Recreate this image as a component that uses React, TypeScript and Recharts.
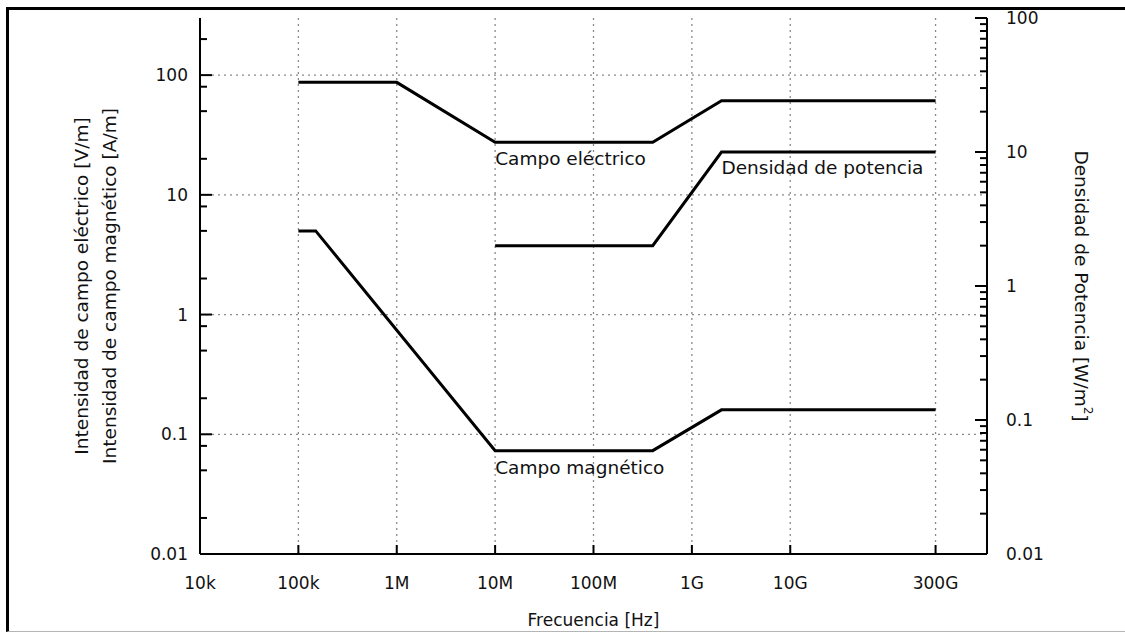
import React from 'react';
import { ComposedChart, Line, XAxis, YAxis, ReferenceLine, ReferenceDot } from 'recharts';

// ---- data ----
const freqTicks = [1e4, 1e5, 1e6, 1e7, 1e8, 1e9, 1e10, 3e11];
const freqLabels = ['10k', '100k', '1M', '10M', '100M', '1G', '10G', '300G'];
const freqGrid = [1e5, 1e6, 1e7, 1e8, 1e9, 1e10, 3e11];

const leftMajor = [0.01, 0.1, 1, 10, 100];
const leftMajorLabels = ['0.01', '0.1', '1', '10', '100'];
const leftMinor = [0.02, 0.05, 0.08, 0.2, 0.5, 0.8, 2, 5, 8, 20, 50, 80, 200];
const leftGrid = [0.1, 1, 10, 100];

const rightMajor = [0.01, 0.1, 1, 10, 100];
const rightMajorLabels = ['0.01', '0.1', '1', '10', '100'];
const rightMinor = [
  0.02, 0.03, 0.04, 0.05, 0.06, 0.07, 0.08, 0.09,
  0.2, 0.3, 0.4, 0.5, 0.6, 0.7, 0.8, 0.9,
  2, 3, 4, 5, 6, 7, 8, 9,
  20, 30, 40, 50, 60, 70, 80, 90,
];

const electricData = [
  { f: 1e5, v: 87 },
  { f: 1e6, v: 87 },
  { f: 1e7, v: 27.5 },
  { f: 4e8, v: 27.5 },
  { f: 2e9, v: 61 },
  { f: 3e11, v: 61 },
];
const magneticData = [
  { f: 1e5, v: 5 },
  { f: 1.5e5, v: 5 },
  { f: 1e7, v: 0.073 },
  { f: 4e8, v: 0.073 },
  { f: 2e9, v: 0.16 },
  { f: 3e11, v: 0.16 },
];
const powerData = [
  { f: 1e7, v: 2 },
  { f: 4e8, v: 2 },
  { f: 2e9, v: 10 },
  { f: 3e11, v: 10 },
];

const annotations = [
  { text: 'Campo eléctrico', f: 1e7, v: 20, axis: 'left' },
  { text: 'Densidad de potencia', f: 2e9, v: 7.6, axis: 'right' },
  { text: 'Campo magnético', f: 1e7, v: 0.053, axis: 'left' },
];

const FONT = '"DejaVu Sans", Verdana, sans-serif';
const TXT = '#111';

const near = (a: number, b: number) => Math.abs(a - b) <= Math.abs(b) * 1e-6;

const BottomTick = (props: any) => {
  const { x, y, payload } = props;
  const i = freqTicks.findIndex((t) => near(payload.value, t));
  return (
    <g>
      <line x1={x} x2={x} y1={y} y2={y - 9} stroke="#000" strokeWidth={2} />
      <text x={x} y={y + 29} textAnchor="middle" dominantBaseline="central" fontFamily={FONT} fontSize={17} fill={TXT}>
        {i >= 0 ? freqLabels[i] : ''}
      </text>
    </g>
  );
};

const TopTick = (props: any) => {
  const { x, y } = props;
  return <line x1={x} x2={x} y1={y} y2={y + 9} stroke="#000" strokeWidth={2} />;
};

const LeftTick = (props: any) => {
  const { x, y, payload } = props;
  const i = leftMajor.findIndex((t) => near(payload.value, t));
  const major = i >= 0;
  return (
    <g>
      <line x1={x} x2={x + (major ? 12 : 7)} y1={y} y2={y} stroke="#000" strokeWidth={2} />
      {major && (
        <text x={x - 12} y={y} textAnchor="end" dominantBaseline="central" fontFamily={FONT} fontSize={17} fill={TXT}>
          {leftMajorLabels[i]}
        </text>
      )}
    </g>
  );
};

const RightTick = (props: any) => {
  const { x, y, payload } = props;
  const i = rightMajor.findIndex((t) => near(payload.value, t));
  const major = i >= 0;
  return (
    <g>
      <line x1={x} x2={x - (major ? 12 : 7)} y1={y} y2={y} stroke="#000" strokeWidth={2} />
      {major && (
        <text x={x + 19} y={y} textAnchor="start" dominantBaseline="central" fontFamily={FONT} fontSize={17} fill={TXT}>
          {rightMajorLabels[i]}
        </text>
      )}
    </g>
  );
};

const LeftTitle = (props: any) => {
  const vb = props.viewBox || { x: 0, y: 18, width: 200, height: 536 };
  const cy = vb.y + vb.height / 2;
  const x1 = vb.x + 81;
  const x2 = vb.x + 109;
  return (
    <g>
      <text x={x1} y={cy} transform={`rotate(-90 ${x1} ${cy})`} textAnchor="middle" dominantBaseline="central" fontFamily={FONT} fontSize={18.5} fill={TXT}>
        Intensidad de campo eléctrico [V/m]
      </text>
      <text x={x2} y={cy} transform={`rotate(-90 ${x2} ${cy})`} textAnchor="middle" dominantBaseline="central" fontFamily={FONT} fontSize={18.5} fill={TXT}>
        Intensidad de campo magnético [A/m]
      </text>
    </g>
  );
};

const RightTitle = (props: any) => {
  const vb = props.viewBox || { x: 987, y: 18, width: 138, height: 536 };
  const cy = vb.y + vb.height / 2;
  const x = vb.x + 94;
  return (
    <text x={x} y={cy} transform={`rotate(90 ${x} ${cy})`} textAnchor="middle" dominantBaseline="central" fontFamily={FONT} fontSize={18.5} fill={TXT}>
      Densidad de Potencia [W/m
      <tspan dy={-7} fontSize={12}>2</tspan>
      <tspan dy={7}>]</tspan>
    </text>
  );
};

const BottomTitle = (props: any) => {
  const vb = props.viewBox || { x: 200, y: 554, width: 787, height: 79 };
  const cx = vb.x + vb.width / 2;
  return (
    <text x={cx} y={vb.y + 66} textAnchor="middle" dominantBaseline="central" fontFamily={FONT} fontSize={17} fill={TXT}>
      Frecuencia [Hz]
    </text>
  );
};

export default function App() {
  return (
    <div style={{ position: 'absolute', left: 0, top: 0, width: 1125, height: 633, background: '#fff', overflow: 'hidden' }}>
      <div
        style={{
          position: 'absolute',
          left: 6,
          top: 7,
          width: 1125,
          height: 621,
          borderTop: '3px solid #000',
          borderLeft: '3px solid #000',
          borderBottom: '1px solid #b5b5b5',
        }}
      />
      <div style={{ position: 'absolute', left: 0, top: 0 }}>
        <ComposedChart width={1125} height={633} margin={{ top: 18, right: 0, bottom: 0, left: 0 }}>
          <XAxis
            dataKey="f"
            type="number"
            scale="log"
            domain={[1e4, 1e12]}
            allowDataOverflow
            ticks={freqTicks}
            interval={0}
            height={79}
            tickSize={0}
            tickMargin={0}
            tick={<BottomTick />}
            axisLine={{ stroke: '#000', strokeWidth: 2 }}
            tickLine={false}
            label={<BottomTitle />}
          />
          <XAxis
            xAxisId="top"
            dataKey="f"
            type="number"
            scale="log"
            orientation="top"
            domain={[1e4, 1e12]}
            allowDataOverflow
            ticks={freqTicks}
            interval={0}
            height={0}
            tickSize={0}
            tickMargin={0}
            tick={<TopTick />}
            axisLine={{ stroke: '#000', strokeWidth: 2 }}
            tickLine={false}
          />
          <YAxis
            yAxisId="left"
            type="number"
            scale="log"
            domain={[0.01, 300]}
            allowDataOverflow
            ticks={[...leftMajor, ...leftMinor]}
            interval={0}
            width={200}
            tickSize={0}
            tickMargin={0}
            tick={<LeftTick />}
            axisLine={{ stroke: '#000', strokeWidth: 2 }}
            tickLine={false}
            label={<LeftTitle />}
          />
          <YAxis
            yAxisId="right"
            orientation="right"
            type="number"
            scale="log"
            domain={[0.01, 100]}
            allowDataOverflow
            ticks={[...rightMajor, ...rightMinor]}
            interval={0}
            width={138}
            tickSize={0}
            tickMargin={0}
            tick={<RightTick />}
            axisLine={{ stroke: '#000', strokeWidth: 2 }}
            tickLine={false}
            label={<RightTitle />}
          />
          {freqGrid.map((f) => (
            <ReferenceLine key={'gx' + f} x={f} yAxisId="left" stroke="#8a8a8a" strokeWidth={1.3} strokeDasharray="2 4" />
          ))}
          {leftGrid.map((v) => (
            <ReferenceLine key={'gy' + v} y={v} yAxisId="left" stroke="#8a8a8a" strokeWidth={1.3} strokeDasharray="2 4" />
          ))}
          <Line data={electricData} dataKey="v" yAxisId="left" type="linear" stroke="#000" strokeWidth={3} dot={false} isAnimationActive={false} />
          <Line data={magneticData} dataKey="v" yAxisId="left" type="linear" stroke="#000" strokeWidth={3} dot={false} isAnimationActive={false} />
          <Line data={powerData} dataKey="v" yAxisId="right" type="linear" stroke="#000" strokeWidth={3} dot={false} isAnimationActive={false} />
          {annotations.map((a) => (
            <ReferenceDot
              key={a.text}
              x={a.f}
              y={a.v}
              yAxisId={a.axis}
              r={0}
              shape={(p: any) => (
                <text x={p.cx} y={p.cy} textAnchor="start" dominantBaseline="central" fontFamily={FONT} fontSize={18.5} fill={TXT}>
                  {a.text}
                </text>
              )}
            />
          ))}
        </ComposedChart>
      </div>
    </div>
  );
}
